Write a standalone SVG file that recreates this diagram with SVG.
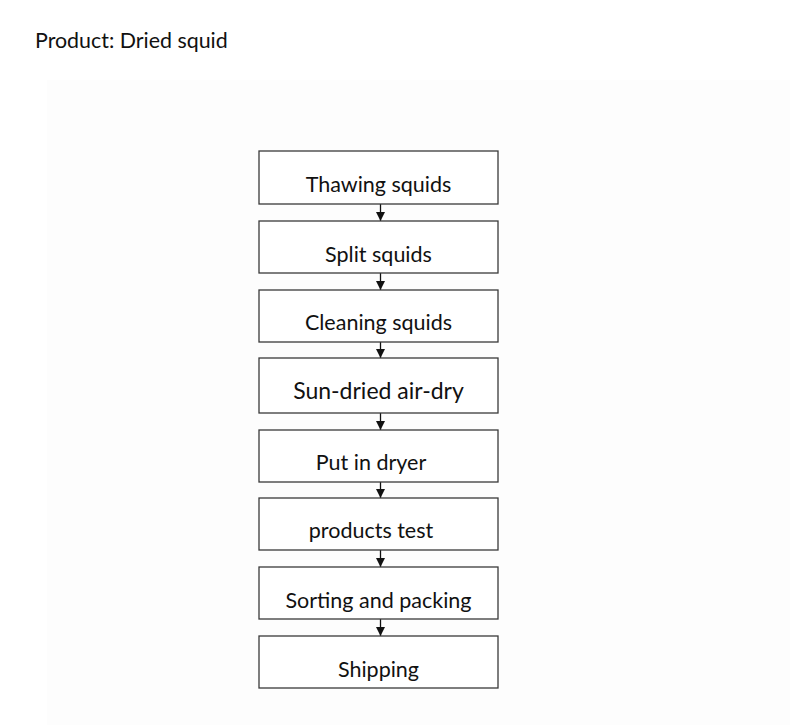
<svg xmlns="http://www.w3.org/2000/svg" width="790" height="725" viewBox="0 0 790 725">
<style>
.box{fill:#ffffff;stroke:#3a3a3a;stroke-width:1.3}
.lbl{font-family:Lato,"Open Sans","Noto Sans",sans-serif;font-size:21.5px;fill:#111;text-anchor:middle}
.big{font-size:23px}
.title{font-family:Lato,"Open Sans","Noto Sans",sans-serif;font-size:21.4px;fill:#111}
.conn{stroke:#111;stroke-width:1.3;fill:none}
</style>
<defs>
<marker id="ah" markerWidth="12" markerHeight="12" refX="10" refY="5.5" orient="auto" markerUnits="userSpaceOnUse">
<path d="M1,1 L10,5.5 L1,10 Z" fill="#111"/>
</marker>
</defs>
<rect width="790" height="725" fill="#ffffff"/>
<rect x="47" y="80" width="743" height="645" fill="#fdfdfd"/>
<text class="title" x="35" y="48">Product: Dried squid</text>
<g id="connectors">
<line class="conn" x1="380.5" y1="204" x2="380.5" y2="221" marker-end="url(#ah)"/>
<line class="conn" x1="380.5" y1="273" x2="380.5" y2="290" marker-end="url(#ah)"/>
<line class="conn" x1="380.5" y1="342" x2="380.5" y2="358" marker-end="url(#ah)"/>
<line class="conn" x1="380.5" y1="413" x2="380.5" y2="430" marker-end="url(#ah)"/>
<line class="conn" x1="380.5" y1="482" x2="380.5" y2="498" marker-end="url(#ah)"/>
<line class="conn" x1="380.5" y1="550" x2="380.5" y2="567" marker-end="url(#ah)"/>
<line class="conn" x1="380.5" y1="619" x2="380.5" y2="636" marker-end="url(#ah)"/>
</g>
<g id="n1"><rect class="box" x="259" y="151" width="239" height="53"/><text class="lbl" x="378.5" y="192">Thawing squids</text></g>
<g id="n2"><rect class="box" x="259" y="221" width="239" height="52"/><text class="lbl" x="378.5" y="262">Split squids</text></g>
<g id="n3"><rect class="box" x="259" y="290" width="239" height="52"/><text class="lbl" x="378.5" y="330">Cleaning squids</text></g>
<g id="n4"><rect class="box" x="259" y="358" width="239" height="55"/><text class="lbl big" x="378.5" y="399">Sun-dried air-dry</text></g>
<g id="n5"><rect class="box" x="259" y="430" width="239" height="52"/><text class="lbl" x="371" y="470">Put in dryer</text></g>
<g id="n6"><rect class="box" x="259" y="498" width="239" height="52"/><text class="lbl" x="371" y="538">products test</text></g>
<g id="n7"><rect class="box" x="259" y="567" width="239" height="52"/><text class="lbl" x="378.5" y="608">Sorting and packing</text></g>
<g id="n8"><rect class="box" x="259" y="636" width="239" height="52"/><text class="lbl" x="378.5" y="677">Shipping</text></g>
</svg>
